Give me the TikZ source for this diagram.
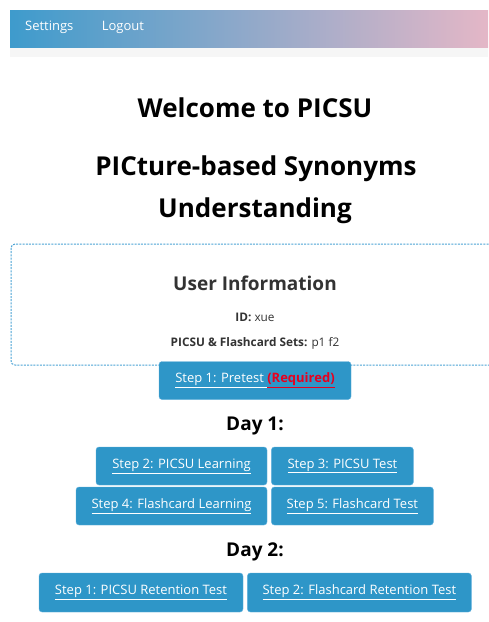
\documentclass[tikz,border=0pt]{standalone}
\usepackage{fontspec}
\setmainfont{Open Sans}
\usetikzlibrary{positioning}
\definecolor{navleft}{RGB}{62,155,204}
\definecolor{navright}{RGB}{228,183,199}
\definecolor{btnblue}{RGB}{46,150,200}
\definecolor{btnedge}{RGB}{100,178,222}
\definecolor{infoedge}{RGB}{75,163,213}
\definecolor{infotext}{RGB}{51,51,51}
\definecolor{reqred}{RGB}{232,0,30}
\tikzstyle{navlink}=[text=white, inner sep=0pt, font=\fontsize{13}{15}\selectfont]
\tikzstyle{heading}=[inner sep=0pt, font=\fontsize{26}{30}\selectfont\bfseries]
\tikzstyle{dayhead}=[inner sep=0pt, font=\fontsize{19}{22}\selectfont\bfseries]
\tikzstyle{infohead}=[inner sep=0pt, text=infotext, font=\fontsize{19}{22}\selectfont\bfseries]
\tikzstyle{infotxt}=[inner sep=0pt, text=infotext, font=\fontsize{11.8}{14}\selectfont]
\tikzstyle{button}=[rectangle, draw=btnedge, fill=btnblue, rounded corners=3pt, text=white, inner sep=0pt, minimum height=38pt, font=\fontsize{13}{15}\selectfont]
\newcommand{\ul}[1]{\underline{#1}}

\begin{document}
\begin{tikzpicture}[x=1pt, y=-1pt]
	\useasboundingbox (0,0) rectangle (488,622);
	\fill[white] (0,0) rectangle (488,622);
	% top bar
	\shade[left color=navleft, right color=navright] (10,10) rectangle (488,47);
	\fill[gray!7] (10,48) rectangle (488,57);
	\node[navlink, anchor=west] (set) at (25,27) {Settings};
	\node[navlink, right=28pt of set] (out) {Logout};
	% titles
	\node[heading, anchor=base] (wel) at (255,117) {Welcome to PICSU};
	\node[heading, anchor=base] (pic) at (256,175) {PICture-based Synonyms};
	\node[heading, anchor=base] (und) at (255,217) {Understanding};
	% user information
	\draw[draw=infoedge, line width=1pt, dash pattern=on 2pt off 1.2pt, rounded corners=4pt] (11,244) rectangle (500,365);
	\node[infohead] (uinfo) at (255,283) {User Information};
	\node[infotxt] (uid) at (255,317) {\textbf{ID:} xue};
	\node[infotxt] (usets) at (255,343) {\textbf{PICSU \& Flashcard Sets:} p1 f2};
	% steps
	\node[button, minimum width=192pt] (pre) at (255,380.5) {\ul{Step 1: Pretest\ }\textcolor{reqred}{\bfseries\ul{(Required)}}};
	\node[dayhead] (day1) at (255,426) {Day 1:};
	\node[button, minimum width=171pt] (s2) at (181.5,466) {\ul{Step 2: PICSU Learning}};
	\node[button, minimum width=142pt, right=4pt of s2] (s3) {\ul{Step 3: PICSU Test}};
	\node[button, minimum width=191pt] (s4) at (171.5,506) {\ul{Step 4: Flashcard Learning}};
	\node[button, minimum width=162pt, right=4pt of s4] (s5) {\ul{Step 5: Flashcard Test}};
	\node[dayhead] (day2) at (255,552) {Day 2:};
	\node[button, minimum width=204pt, minimum height=39pt] (r1) at (141,592.5) {\ul{Step 1: PICSU Retention Test}};
	\node[button, minimum width=224pt, minimum height=39pt, right=4pt of r1] (r2) {\ul{Step 2: Flashcard Retention Test}};
\end{tikzpicture}
\end{document}
